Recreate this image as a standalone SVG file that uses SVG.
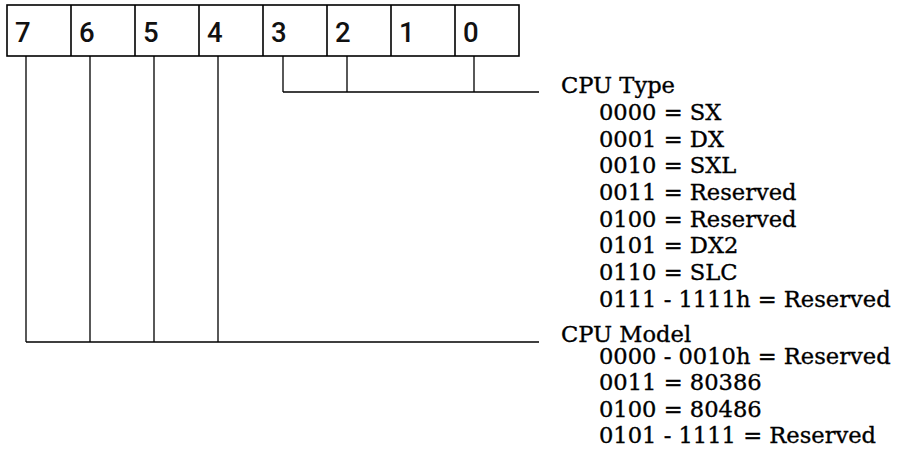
<svg xmlns="http://www.w3.org/2000/svg" width="899" height="451" viewBox="0 0 899 451">
<style>
.box{fill:#fff;stroke:#000;stroke-width:1.6}
.bit{font-family:Roboto,"Liberation Sans",sans-serif;font-weight:500;font-size:27.5px;fill:#111}
.ln{stroke:#000;stroke-width:1.3;fill:none}
.lbl{font-family:"DejaVu Serif","Liberation Serif",serif;font-size:22.6px;fill:#000;stroke:#000;stroke-width:0.35}
</style>
<rect width="899" height="451" fill="#fff"/>
<g id="register">
<rect class="box" x="7" y="5" width="512" height="51"/>
<path class="box" d="M71 5V56M135 5V56M199 5V56M263 5V56M327 5V56M391 5V56M455 5V56"/>
<text class="bit" x="15" y="42">7</text>
<text class="bit" x="79" y="42">6</text>
<text class="bit" x="143" y="42">5</text>
<text class="bit" x="207" y="42">4</text>
<text class="bit" x="271" y="42">3</text>
<text class="bit" x="335" y="42">2</text>
<text class="bit" x="399" y="42">1</text>
<text class="bit" x="463" y="42">0</text>
</g>
<g id="connectors">
<path class="ln" d="M283 56V92M347 56V92M474 56V92M283 92H539"/>
<path class="ln" d="M26 56V342M90 56V342M154 56V342M218 56V342M26 342H539"/>
</g>
<g id="cpu-type">
<text class="lbl" x="561" y="93">CPU Type</text>
<text class="lbl" x="599" y="120">0000 = SX</text>
<text class="lbl" x="599" y="146.5">0001 = DX</text>
<text class="lbl" x="599" y="173">0010 = SXL</text>
<text class="lbl" x="599" y="200">0011 = Reserved</text>
<text class="lbl" x="599" y="226.5">0100 = Reserved</text>
<text class="lbl" x="599" y="253">0101 = DX2</text>
<text class="lbl" x="599" y="280">0110 = SLC</text>
<text class="lbl" x="599" y="306.5">0111 - 1111h = Reserved</text>
</g>
<g id="cpu-model">
<text class="lbl" x="561" y="342">CPU Model</text>
<text class="lbl" x="599" y="364">0000 - 0010h = Reserved</text>
<text class="lbl" x="599" y="390">0011 = 80386</text>
<text class="lbl" x="599" y="416.5">0100 = 80486</text>
<text class="lbl" x="599" y="443">0101 - 1111 = Reserved</text>
</g>
</svg>
